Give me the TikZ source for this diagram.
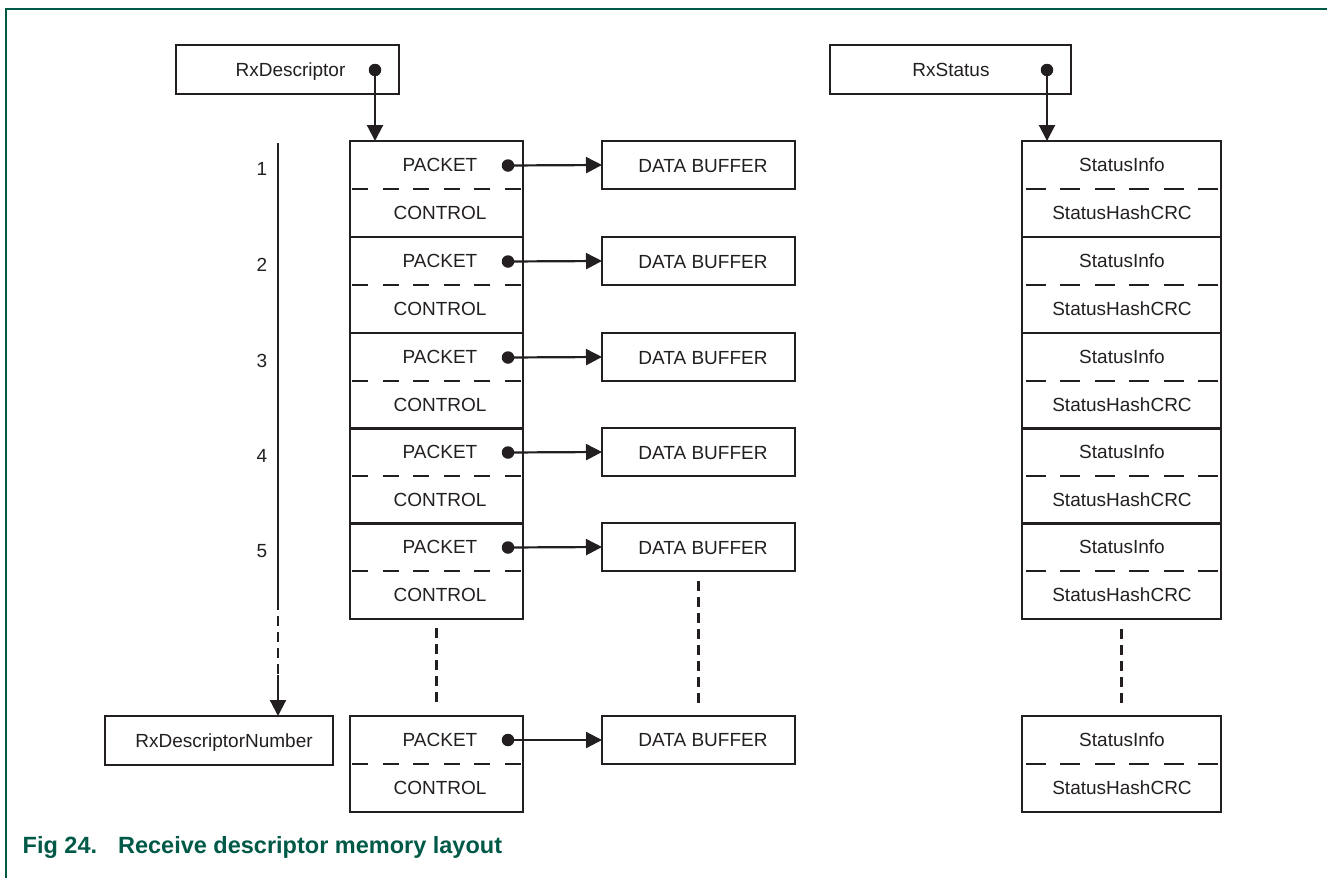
\documentclass[tikz,border=0pt]{standalone}
\usepackage{fontspec}
\setmainfont{Liberation Sans}
\usetikzlibrary{arrows.meta}
\definecolor{ink}{HTML}{231F20}
\definecolor{nxpgreen}{RGB}{0,89,71}
\begin{document}
\begin{tikzpicture}[x=1pt,y=-1pt,
  box/.style={draw=ink, line width=2.2pt, inner sep=0pt, outer sep=0pt, anchor=north west},
  lbl/.style={text=ink, font=\fontsize{19}{22}\selectfont, inner sep=0pt, text height=13.6pt, text depth=0pt},
  dotn/.style={circle, fill=ink, inner sep=0pt, minimum size=12.5pt},
  arr/.style={draw=ink, line width=2.2pt, -{Triangle[length=16pt,width=16pt]}},
  plain/.style={draw=ink, line width=2.2pt},
  divider/.style={draw=ink, line width=2.2pt, dash pattern=on 16pt off 14.6pt},
  divstat/.style={draw=ink, line width=2.2pt, dash pattern=on 20pt off 14.4pt},
  vdash/.style={draw=ink, line width=2.2pt, dash pattern=on 10pt off 6pt},
]
\useasboundingbox (0,0) rectangle (1327,878);
% frame
\draw[nxpgreen, line width=1.5pt] (1327,9) -- (6,9) -- (6,878);
% head boxes
\node[box, minimum width=223pt, minimum height=49pt] (rxd) at (176,45) {};
\node[lbl] (rxdt) at (290.5,70) {RxDescriptor};
\node[dotn] (rxdd) at (375,70) {};
\node[box, minimum width=241pt, minimum height=49pt] (rxs) at (830,45) {};
\node[lbl] (rxst) at (951,70) {RxStatus};
\node[dotn] (rxsd) at (1047,70) {};
% entries
\foreach \t [count=\k] in {141,237,333,428,523} {
  \node[box, minimum width=173pt, minimum height=96pt] (e\k) at (350,\t) {};
  \node[lbl] (p\k) at (440,\t+24) {PACKET};
  \node[lbl] (c\k) at (440,\t+72) {CONTROL};
  \draw[divider] ([xshift=2pt]e\k.west) -- ([xshift=-2pt]e\k.east);
  \node[lbl] (n\k) at (262,\t+28) {\k};
  \node[box, minimum width=193pt, minimum height=48pt] (b\k) at (602,\t) {};
  \node[lbl] (bt\k) at (703,\t+24.5) {DATA BUFFER};
  \node[dotn] (d\k) at (508,\t+24.5) {};
  \draw[arr] (d\k.center) -- (b\k.west);
  \node[box, minimum width=199pt, minimum height=96pt] (s\k) at (1022,\t) {};
  \node[lbl] (si\k) at (1122,\t+24) {StatusInfo};
  \node[lbl] (sh\k) at (1122,\t+72) {StatusHashCRC};
  \draw[divstat] ([xshift=4pt]s\k.west) -- ([xshift=-3pt]s\k.east);
}
% last entries
\node[box, minimum width=173pt, minimum height=96pt] (e6) at (350,716) {};
\node[lbl] (p6) at (440,740) {PACKET};
\node[lbl] (c6) at (440,788) {CONTROL};
\draw[divider] ([xshift=2pt]e6.west) -- ([xshift=-2pt]e6.east);
\node[box, minimum width=193pt, minimum height=48pt] (b6) at (602,716) {};
\node[lbl] (bt6) at (703,740) {DATA BUFFER};
\node[dotn] (d6) at (508,740) {};
\draw[arr] (d6.center) -- (b6.west);
\node[box, minimum width=199pt, minimum height=96pt] (s6) at (1022,716) {};
\node[lbl] (si6) at (1122,740) {StatusInfo};
\node[lbl] (sh6) at (1122,788) {StatusHashCRC};
\draw[divstat] ([xshift=4pt]s6.west) -- ([xshift=-3pt]s6.east);
% RxDescriptorNumber
\node[box, minimum width=228pt, minimum height=49pt] (rdn) at (105,716) {};
\node[lbl] (rdnt) at (224,740.5) {RxDescriptorNumber};
% head arrows
\draw[arr] (rxdd.center) -- (rxdd |- e1.north);
\draw[arr] (rxsd.center) -- (rxsd |- s1.north);
% left index arrow
\coordinate (ltop) at (278,143);
\coordinate (lm1) at (278,600);
\coordinate (lm2) at (278,675);
\draw[plain] (ltop) -- (lm1);
\draw[vdash] (lm1) -- (lm2);
\draw[arr] (lm2) -- (lm2 |- rdn.north);
% continuation dashes
\draw[vdash] ([yshift=-9pt]e5.south) -- ([yshift=9pt]e6.north);
\draw[vdash] ([yshift=-10pt]b5.south) -- ([yshift=10pt]b6.north);
\draw[vdash] ([yshift=-10pt]s5.south) -- ([yshift=10pt]s6.north);
% caption
\node[anchor=base west, text=nxpgreen, font=\fontsize{23.5}{28}\selectfont\bfseries, inner sep=0pt] (cap) at (22.5,853) {Fig 24.\hspace{21pt}Receive descriptor memory layout};
\end{tikzpicture}
\end{document}
